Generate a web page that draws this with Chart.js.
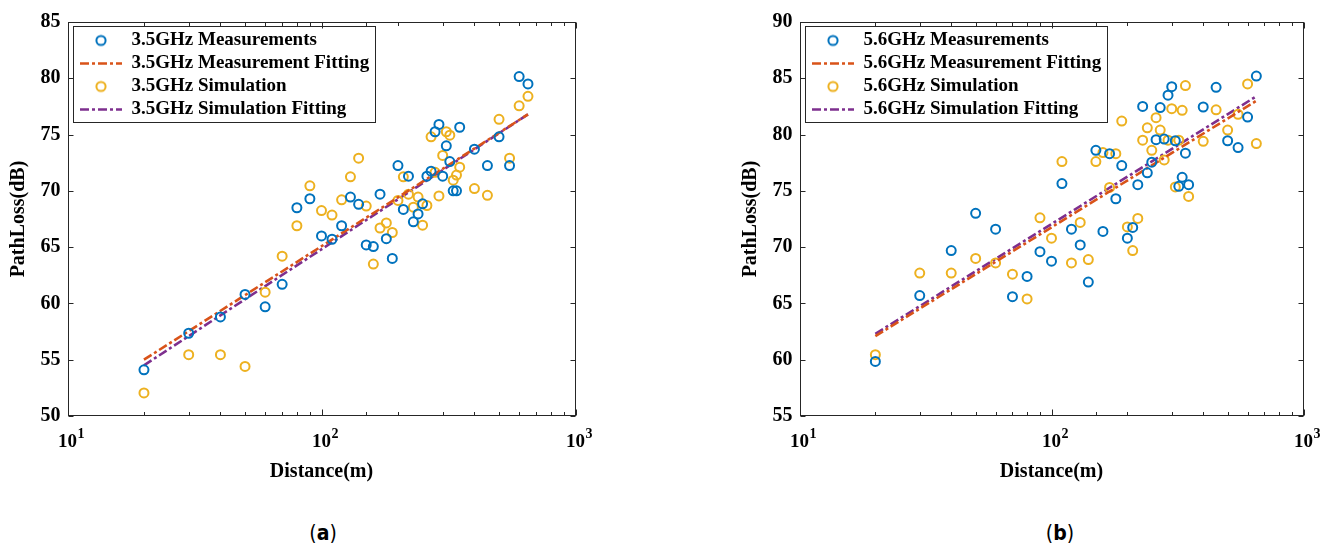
<!DOCTYPE html>
<html>
<head>
<meta charset="utf-8">
<script src="https://cdn.jsdelivr.net/npm/chart.js@4.4.1/dist/chart.umd.min.js"></script>
<style>
  body { margin: 0; width: 1328px; height: 552px; background: #fff; position: relative; overflow: hidden; }
  canvas { position: absolute; top: 0; }
  .cap { position: absolute; top: 521px; transform: translateX(-50%); font-family: "Liberation Sans Narrow", "DejaVu Sans Condensed", sans-serif; font-size: 21px; color: #000; }
</style>
</head>
<body>
<canvas id="chartA" width="600" height="484" style="left:0px"></canvas>
<canvas id="chartB" width="596" height="484" style="left:732px"></canvas>
<div class="cap" style="left:323px">(<b>a</b>)</div>
<div class="cap" style="left:1060px">(<b>b</b>)</div>

<script>
// distances (m) shared by every series
const distances = [20, 30, 40, 50, 60, 70, 80, 90, 100, 110, 120, 130, 140, 150, 160, 170, 180, 190, 200, 210,
                   220, 230, 240, 250, 260, 270, 280, 290, 300, 310, 320, 330, 340, 350, 400, 450, 500, 550, 600, 650];

// 3.5GHz path loss (dB)
const meas35 = [54.1, 57.35, 58.8, 60.8, 59.7, 61.7, 68.5, 69.3, 66.0, 65.7, 66.9, 69.45, 68.8, 65.2, 65.05, 69.7, 65.75, 64.0, 72.25, 68.35,
                71.3, 67.25, 67.95, 68.85, 71.3, 71.75, 75.25, 75.9, 71.3, 74.0, 72.6, 70.0, 70.0, 75.65, 73.7, 72.25, 74.8, 72.25, 80.15, 79.5];
const sim35  = [52.05, 55.45, 55.45, 54.4, 61.0, 64.2, 66.9, 70.45, 68.25, 67.85, 69.2, 71.25, 72.9, 68.65, 63.5, 66.7, 67.15, 66.3, 69.15, 71.25,
                69.7, 68.55, 69.45, 66.95, 68.7, 74.8, 71.65, 69.55, 73.15, 75.25, 74.95, 70.95, 71.4, 72.1, 70.2, 69.6, 76.35, 72.9, 77.55, 78.4];

// 5.6GHz path loss (dB)
const meas56 = [59.85, 65.7, 69.7, 73.0, 71.6, 65.6, 67.4, 69.6, 68.75, 75.65, 71.6, 70.2, 66.9, 78.6, 71.4, 78.3, 74.3, 77.25, 70.8, 71.75,
                75.55, 82.5, 76.6, 77.55, 79.55, 82.4, 79.6, 83.5, 84.25, 79.45, 75.4, 76.2, 78.35, 75.55, 82.45, 84.2, 79.45, 78.85, 81.55, 85.2];
const sim56  = [60.45, 67.7, 67.7, 69.0, 68.6, 67.6, 65.4, 72.6, 70.8, 77.6, 68.6, 72.2, 68.9, 77.6, 78.4, 75.3, 78.3, 81.2, 71.8, 69.7,
                72.55, 79.5, 80.6, 78.6, 81.5, 80.4, 77.75, 79.5, 82.3, 75.35, 79.5, 82.15, 84.35, 74.5, 79.4, 82.2, 80.4, 81.8, 84.5, 79.2];

// fitted lines, end points
const fitX = [20, 650];
const fitMeas35 = [55.0, 76.8];
const fitSim35  = [54.5, 76.8];
const fitMeas56 = [62.1, 83.0];
const fitSim56  = [62.3, 83.4];

// axis ticks: x labels are 10^n, base and exponent
const xTickValues = [10, 100, 1000];
const xTickBase = ['10', '10', '10'];
const xTickExp = ['1', '2', '3'];
const yRange35 = [50, 85];
const yRange56 = [55, 90];

const BLUE = '#0072BD', RED = '#D95319', YELLOW = '#EDB120', PURPLE = '#7E2F8E';
const SERIF = '"Liberation Serif", "Times New Roman", serif';
const AXIS = '#262626';
const TICK_FONT = { family: SERIF, size: 19, weight: 'bold' };
const LEG_SYM = 42;          // legend symbol width
const LEG_X = 12.5;          // legend symbol start, from left axis

function pts(xs, ys) { return xs.map((x, i) => ({x: x, y: ys[i]})); }
function majorIndex(v) { return xTickValues.findIndex(t => Math.abs(t - v) < 1e-6); }

// small open circle for the legend (pointStyleWidth would squash it into an ellipse)
function circleIcon(color) {
    const c = document.createElement('canvas');
    c.width = 14; c.height = 14;
    const g = c.getContext('2d');
    g.strokeStyle = color;
    g.lineWidth = 2;
    g.beginPath();
    g.arc(7, 7, 4.6, 0, Math.PI * 2);
    g.stroke();
    return c;
}

// matlab style box + inward ticks, exponents, legend frame
const framePlugin = {
    id: 'frame',
    beforeDraw(chart) {
        const lg = chart.legend;
        lg.left = chart.chartArea.left + LEG_X - lg.options.labels.padding;
        lg.top = chart.chartArea.top + 5;
    },
    afterDraw(chart) {
        const {ctx, chartArea: a, scales} = chart;
        ctx.save();
        ctx.strokeStyle = AXIS;
        ctx.lineWidth = 1;
        const L = Math.round(a.left) + 0.5, R = Math.round(a.right) - 0.5;
        const T = Math.round(a.top) + 0.5, B = Math.round(a.bottom) - 0.5;
        ctx.strokeRect(L, T, R - L, B - T);
        ctx.beginPath();
        scales.x.ticks.forEach(t => {
            const px = Math.round(scales.x.getPixelForValue(t.value)) + 0.5;
            const len = majorIndex(t.value) >= 0 ? 6 : 3.5;
            ctx.moveTo(px, B); ctx.lineTo(px, B - len);
            ctx.moveTo(px, T); ctx.lineTo(px, T + len);
        });
        scales.y.ticks.forEach(t => {
            const py = Math.round(scales.y.getPixelForValue(t.value)) + 0.5;
            ctx.moveTo(L, py); ctx.lineTo(L + 5, py);
            ctx.moveTo(R, py); ctx.lineTo(R - 5, py);
        });
        ctx.stroke();

        // exponents of the x tick labels
        ctx.fillStyle = '#000';
        ctx.font = 'bold 19px ' + SERIF;
        const baseW = ctx.measureText('10').width;
        ctx.font = 'bold 14px ' + SERIF;
        ctx.textBaseline = 'top';
        ctx.textAlign = 'left';
        scales.x.ticks.forEach(t => {
            const i = majorIndex(t.value);
            if (i < 0) return;
            const px = scales.x.getPixelForValue(t.value);
            ctx.fillText(xTickExp[i], px + baseW / 2 + 0.5, a.bottom + 11);
        });

        // legend frame
        ctx.font = 'bold 19px ' + SERIF;
        const tw = Math.max(...chart.data.datasets.map(d => ctx.measureText(d.label).width));
        const bx = L + 5, by = T + 4;
        const textEnd = a.left + LEG_X + LEG_SYM + 9.5 + tw;
        ctx.strokeRect(bx, by, Math.round(textEnd + 6 - bx), 96);
        ctx.restore();
    }
};

function makeChart(id, band, meas, sim, fitM, fitS, yRange, padRight) {
    const ctx = document.getElementById(id);
    return new Chart(ctx, {
        type: 'scatter',
        data: {
            datasets: [{
                label: band + ' Measurements',
                data: pts(distances, meas),
                borderColor: BLUE,
                backgroundColor: 'rgba(0,0,0,0)',
                pointRadius: 4.5,
                pointBorderWidth: 2
            }, {
                label: band + ' Measurement Fitting',
                data: pts(fitX, fitM),
                showLine: true,
                borderColor: RED,
                backgroundColor: RED,
                borderWidth: 2.6,
                borderDash: [9, 3, 3, 3],
                pointRadius: 0,
                pointStyle: 'line'
            }, {
                label: band + ' Simulation',
                data: pts(distances, sim),
                borderColor: YELLOW,
                backgroundColor: 'rgba(0,0,0,0)',
                pointRadius: 4.5,
                pointBorderWidth: 2
            }, {
                label: band + ' Simulation Fitting',
                data: pts(fitX, fitS),
                showLine: true,
                borderColor: PURPLE,
                backgroundColor: PURPLE,
                borderWidth: 2.6,
                borderDash: [9, 3, 3, 3],
                pointRadius: 0,
                pointStyle: 'line'
            }]
        },
        options: {
            responsive: false,
            animation: false,
            layout: { padding: { left: 0, top: 22, right: padRight, bottom: 0 } },
            scales: {
                x: {
                    type: 'logarithmic',
                    min: 10,
                    max: 1000,
                    grid: { display: false, drawTicks: false },
                    border: { display: false },
                    ticks: {
                        autoSkip: false,
                        maxRotation: 0,
                        padding: 15,
                        color: '#000',
                        font: TICK_FONT,
                        callback: v => {
                            const i = majorIndex(v);
                            return i < 0 ? '' : xTickBase[i];
                        }
                    },
                    title: {
                        display: true,
                        text: 'Distance(m)',
                        color: '#000',
                        font: { family: SERIF, size: 20, weight: 'bold' },
                        padding: { top: 0, bottom: 0 }
                    },
                    afterFit: s => { s.height = 68; }
                },
                y: {
                    min: yRange[0],
                    max: yRange[1],
                    grid: { display: false, drawTicks: false },
                    border: { display: false },
                    ticks: {
                        stepSize: 5,
                        padding: 7,
                        color: '#000',
                        font: { family: SERIF, size: 20, weight: 'bold' }
                    },
                    title: {
                        display: true,
                        text: 'PathLoss(dB)',
                        color: '#000',
                        font: { family: SERIF, size: 20, weight: 'bold' },
                        padding: { top: 7, bottom: 0 }
                    },
                    afterFit: s => { s.width = 67.5; }
                }
            },
            plugins: {
                tooltip: { enabled: false },
                legend: {
                    position: 'chartArea',
                    align: 'start',
                    labels: {
                        usePointStyle: true,
                        pointStyleWidth: LEG_SYM,
                        padding: 4,
                        color: '#000',
                        font: { family: SERIF, size: 19, weight: 'bold' },
                        generateLabels(chart) {
                            const items = Chart.defaults.plugins.legend.labels.generateLabels(chart);
                            items.forEach(it => {
                                const ds = chart.data.datasets[it.datasetIndex];
                                if (ds.showLine) {
                                    it.lineDash = ds.borderDash;
                                    it.lineWidth = ds.borderWidth;
                                    it.strokeStyle = ds.borderColor;
                                    it.pointStyle = 'line';
                                } else {
                                    it.pointStyle = circleIcon(ds.borderColor);
                                }
                            });
                            return items;
                        }
                    }
                }
            }
        },
        plugins: [framePlugin]
    });
}

makeChart('chartA', '3.5GHz', meas35, sim35, fitMeas35, fitSim35, yRange35, 17.5);
makeChart('chartB', '5.6GHz', meas56, sim56, fitMeas56, fitSim56, yRange56, 13.5);
</script>
</body>
</html>
